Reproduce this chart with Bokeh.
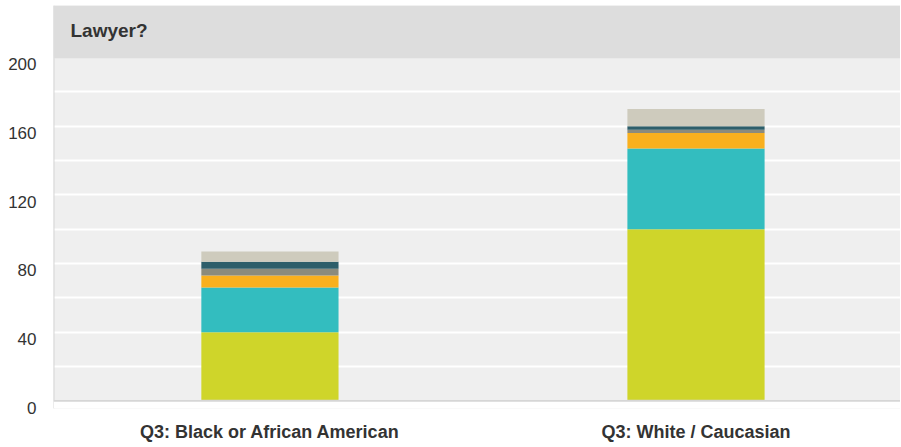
from bokeh.plotting import figure
from bokeh.models import ColumnDataSource, Range1d, FixedTicker, BoxAnnotation, Label, Span
from bokeh.embed import file_html
from bokeh.resources import INLINE

# ---- data ----
categories = ["Q3: Black or African American", "Q3: White / Caucasian"]
series_names = ["s1", "s2", "s3", "s4", "s5", "s6"]
s1 = [40, 100]
s2 = [26, 47]
s3 = [7, 9]
s4 = [4, 2]
s5 = [4, 2]
s6 = [6, 10]
y_ticks = [0, 40, 80, 120, 160, 200]
grid_ticks = [0, 20, 40, 60, 80, 100, 120, 140, 160, 180, 200]
title_text = "Lawyer?"

colors = ["#cfd52a", "#33bdbf", "#f9b01e", "#8b8b7d", "#2d5e6a", "#cecbbd"]

x_pos = list(range(len(categories)))
src = ColumnDataSource(dict(x=x_pos, s1=s1, s2=s2, s3=s3, s4=s4, s5=s5, s6=s6))

Y_BOTTOM, Y_TOP = -4.5, 230.35
X_START, X_END = -0.508, 1.480
LABEL_SHIFT = 4  # tick labels sit a little below their grid lines

p = figure(width=900, height=445, output_backend="svg", toolbar_location=None,
           x_range=Range1d(X_START, X_END), y_range=Range1d(Y_BOTTOM, Y_TOP))
p.min_border_left = 53
p.min_border_right = 0
p.min_border_top = 5
p.min_border_bottom = 37
p.outline_line_color = None
p.background_fill_color = "#efefef"
p.border_fill_color = "white"

p.vbar_stack(series_names, x="x", width=0.322, source=src, color=colors, line_color=None)

# grid
p.xgrid.visible = False
p.ygrid.ticker = FixedTicker(ticks=grid_ticks)
p.ygrid.grid_line_color = "white"
p.ygrid.grid_line_width = 2

# y axis: labels placed slightly below their grid lines
shifted = [t - LABEL_SHIFT for t in y_ticks]
p.yaxis.ticker = FixedTicker(ticks=shifted)
p.yaxis.major_label_overrides = {s: str(t) for s, t in zip(shifted, y_ticks)}
p.yaxis.major_tick_line_color = None
p.yaxis.minor_tick_line_color = None
p.yaxis.axis_line_color = None
p.yaxis.major_label_text_font = "Liberation Sans"
p.yaxis.major_label_text_font_size = "17px"
p.yaxis.major_label_text_color = "#333333"
p.yaxis.major_label_standoff = 11

# x axis
p.xaxis.ticker = FixedTicker(ticks=x_pos)
p.xaxis.major_label_overrides = {i: c for i, c in zip(x_pos, categories)}
p.xaxis.major_tick_line_color = None
p.xaxis.minor_tick_line_color = None
p.xaxis.axis_line_color = None
p.xaxis.major_label_text_font = "Liberation Sans"
p.xaxis.major_label_text_font_size = "18px"
p.xaxis.major_label_text_font_style = "bold"
p.xaxis.major_label_text_color = "#333333"
p.xaxis.major_label_standoff = 7

# left edge line, white area below baseline, baseline
p.add_layout(Span(location=X_START, dimension="height", line_color="#d6d6d6", line_width=2))
p.add_layout(BoxAnnotation(top=0, fill_color="white", fill_alpha=1.0, line_color=None, level="annotation"))
p.add_layout(Span(location=0, dimension="width", line_color="#d6d6d6", line_width=2))

# title band
band = BoxAnnotation(bottom=199.5, fill_color="#dddddd", fill_alpha=1.0, line_color=None, level="annotation")
p.add_layout(band)
lbl = Label(x=17, x_units="screen", y=215.6, text=title_text, text_font="Liberation Sans",
            text_font_size="19px", text_font_style="bold", text_color="#333333",
            text_baseline="middle")
p.add_layout(lbl)

open("out.html", "w").write(file_html(p, INLINE))
